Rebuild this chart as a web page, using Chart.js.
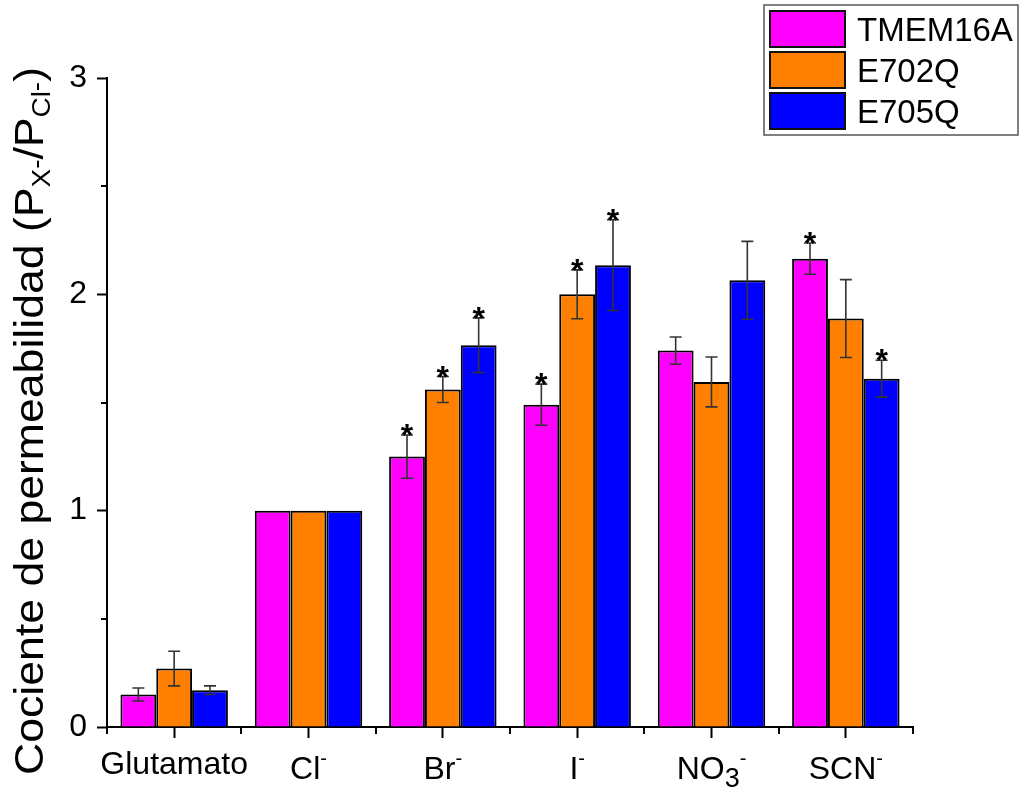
<!DOCTYPE html>
<html>
<head>
<meta charset="utf-8">
<script src="https://cdn.jsdelivr.net/npm/chart.js@4"></script>
<style>
  html, body { margin: 0; padding: 0; background: #fff; }
  #wrap { width: 1021px; height: 790px; position: relative; }
</style>
</head>
<body>
<div id="wrap"><canvas id="chart" width="1021" height="790"></canvas></div>
<script>
// Anion permeability ratios (P_X / P_Cl) for TMEM16A and two pore mutants
const categories = ['Glutamato', 'Cl⁻', 'Br⁻', 'I⁻', 'NO₃⁻', 'SCN⁻'];
const seriesNames = ['TMEM16A', 'E702Q', 'E705Q'];
const seriesColors = ['#ff00ff', '#ff8000', '#0000ff'];

const tmem16a    = [0.15, 1.00, 1.25, 1.49, 1.74, 2.165];
const tmem16aErr = [0.03, 0.00, 0.10, 0.095, 0.063, 0.072];
const e702q      = [0.27, 1.00, 1.56, 2.00, 1.595, 1.888];
const e702qErr   = [0.08, 0.00, 0.06, 0.113, 0.115, 0.18];
const e705q      = [0.17, 1.00, 1.765, 2.135, 2.065, 1.61];
const e705qErr   = [0.02, 0.00, 0.126, 0.21, 0.18, 0.085];

// significance marks (*) per bar
const tmem16aSig = [false, false, true, true, false, true];
const e702qSig   = [false, false, true, true, false, false];
const e705qSig   = [false, false, true, true, false, true];

const yMin = 0, yMax = 3, yStep = 1;
const yMinorTicks = [0.5, 1.5, 2.5];

// axis title as rich text: [text, kind] where kind = main | sub | subsup
const yTitleParts = [
  ['Cociente de permeabilidad (P', 'main'],
  ['X', 'sub'], ['-', 'subsup'],
  ['/P', 'main'],
  ['Cl', 'sub'], ['-', 'subsup'],
  [')', 'main']
];

const FONT = '"Liberation Sans", Arial, Helvetica, sans-serif';

function richWidth(ctx, segs) {
  let w = 0;
  segs.forEach(s => { ctx.font = s.size + 'px ' + FONT; w += ctx.measureText(s.text).width; });
  return w;
}
function drawRich(ctx, segs, x, y) {
  let cx = x;
  segs.forEach(s => {
    ctx.font = s.size + 'px ' + FONT;
    ctx.fillText(s.text, cx, y + s.dy);
    cx += ctx.measureText(s.text).width;
  });
}
// split a tick label into plain / subscript / superscript pieces
function labelSegments(label) {
  const segs = [];
  for (const ch of label) {
    if (ch === '⁻') segs.push({ text: '-', size: 20, dy: -14.5 });
    else if (ch === '₃') segs.push({ text: '3', size: 27, dy: 8 });
    else {
      const last = segs[segs.length - 1];
      if (last && last.size === 32 && last.dy === 0) last.text += ch;
      else segs.push({ text: ch, size: 32, dy: 0 });
    }
  }
  return segs;
}

const decorations = {
  id: 'decorations',
  afterDatasetsDraw(chart) {
    const { ctx, scales: { y } } = chart;
    ctx.save();
    chart.data.datasets.forEach((ds, di) => {
      const meta = chart.getDatasetMeta(di);
      meta.data.forEach((bar, i) => {
        const v = ds.data[i], e = ds.errors[i];
        let top = y.getPixelForValue(v);
        if (e > 0) {
          const yt = y.getPixelForValue(v + e), yb = y.getPixelForValue(v - e);
          ctx.strokeStyle = '#333';
          ctx.lineWidth = 1.6;
          ctx.beginPath();
          ctx.moveTo(bar.x, yt); ctx.lineTo(bar.x, yb);
          ctx.moveTo(bar.x - 6, yt); ctx.lineTo(bar.x + 6, yt);
          ctx.moveTo(bar.x - 6, yb); ctx.lineTo(bar.x + 6, yb);
          ctx.stroke();
          top = yt;
        }
        if (ds.sig[i]) {
          ctx.fillStyle = '#000';
          ctx.font = 'bold 32px ' + FONT;
          ctx.textAlign = 'center';
          ctx.textBaseline = 'alphabetic';
          ctx.fillText('*', bar.x, top + 11);
        }
      });
    });
    ctx.restore();
  },
  afterDraw(chart) {
    const { ctx, scales: { x, y } } = chart;
    ctx.save();
    ctx.strokeStyle = '#000';
    ctx.lineWidth = 2;
    ctx.beginPath();
    // minor ticks on the value axis
    yMinorTicks.forEach(v => {
      const py = Math.round(y.getPixelForValue(v));
      ctx.moveTo(x.left, py); ctx.lineTo(x.left - 6, py);
    });
    // minor ticks between categories
    for (let i = 0; i <= categories.length; i++) {
      const px = Math.round(x.getPixelForValue(i - 0.5));
      ctx.moveTo(px, y.bottom); ctx.lineTo(px, y.bottom + 7);
    }
    ctx.stroke();

    // category labels with sub/superscripts
    ctx.fillStyle = '#000';
    ctx.textAlign = 'left';
    ctx.textBaseline = 'alphabetic';
    categories.forEach((lab, i) => {
      const segs = labelSegments(lab);
      const w = richWidth(ctx, segs);
      const cx = x.getPixelForValue(i);
      const scripted = segs.length > 1;
      drawRich(ctx, segs, cx - w / 2, scripted ? 779 : 774);
    });

    // rotated value-axis title
    const main = 40, sub = 25;
    const tsegs = yTitleParts.map(([t, k]) =>
      k === 'main' ? { text: t, size: main, dy: 0 } :
      k === 'sub' ? { text: t, size: sub, dy: 7 } :
                    { text: t, size: sub, dy: 2 });
    const tw = richWidth(ctx, tsegs);
    const span = 708;
    ctx.save();
    ctx.translate(43, 775);
    ctx.rotate(-Math.PI / 2);
    ctx.scale(span / tw, 1);
    drawRich(ctx, tsegs, 0, 0);
    ctx.restore();

    // legend box
    ctx.strokeStyle = '#555';
    ctx.lineWidth = 1.5;
    ctx.strokeRect(764, 5, 254, 130);
    chart.data.datasets.forEach((ds, i) => {
      const top = 11 + i * 41;
      ctx.fillStyle = ds.backgroundColor;
      ctx.fillRect(770, top, 75, 36);
      ctx.strokeStyle = '#111';
      ctx.lineWidth = 2;
      ctx.strokeRect(770, top, 75, 36);
      ctx.fillStyle = '#000';
      ctx.font = '33px ' + FONT;
      ctx.fillText(ds.label, 857, top + 18 + 12);
    });
    ctx.restore();
  }
};

const values = [tmem16a, e702q, e705q];
const errors = [tmem16aErr, e702qErr, e705qErr];
const sigs = [tmem16aSig, e702qSig, e705qSig];

new Chart(document.getElementById('chart'), {
  type: 'bar',
  data: {
    labels: categories,
    datasets: seriesNames.map((name, i) => ({
      label: name,
      data: values[i],
      errors: errors[i],
      sig: sigs[i],
      backgroundColor: seriesColors[i],
      borderColor: '#000',
      borderWidth: 2,
      borderSkipped: 'bottom',
      categoryPercentage: 0.8,
      barPercentage: 1.0
    }))
  },
  options: {
    responsive: false,
    animation: false,
    devicePixelRatio: 1,
    layout: { padding: { top: 78, right: 108, bottom: 0, left: 0 } },
    plugins: { legend: { display: false }, tooltip: { enabled: false } },
    scales: {
      x: {
        offset: true,
        grid: { display: true, drawOnChartArea: false, offset: false, drawTicks: true,
                tickLength: 11, tickWidth: 2, tickColor: '#000' },
        border: { display: true, color: '#000', width: 2 },
        ticks: { display: false },
        afterFit(scale) { scale.height = 63; }
      },
      y: {
        min: yMin, max: yMax,
        grid: { display: true, drawOnChartArea: false, drawTicks: true,
                tickLength: 10, tickWidth: 2, tickColor: '#000' },
        border: { display: true, color: '#000', width: 2 },
        ticks: { stepSize: yStep, padding: 10, color: '#000',
                 font: { family: FONT, size: 32 } },
        afterFit(scale) { scale.width = 107; }
      }
    }
  },
  plugins: [decorations]
});
</script>
</body>
</html>
